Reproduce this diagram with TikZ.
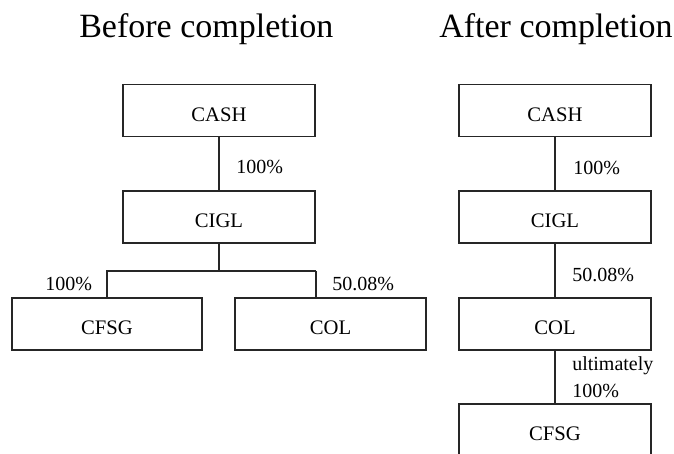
\documentclass[tikz,border=0pt]{standalone}
\usepackage{fontspec}
\setmainfont{Liberation Serif}
\begin{document}
\begin{tikzpicture}[x=0.75pt,y=-0.75pt,
  entity/.style={draw=black!85, line width=1.1pt, rectangle, inner sep=0pt, outer sep=0pt,
    minimum width=144pt, minimum height=39pt, text height=16pt, text depth=0pt,
    font=\fontsize{15.5}{18}\selectfont},
  conn/.style={draw=black!85, line width=1.1pt},
  pct/.style={font=\fontsize{15}{18}\selectfont, inner sep=0pt, anchor=base west},
  ttl/.style={font=\fontsize{25.5}{30}\selectfont, inner sep=0pt, anchor=base west}]
\useasboundingbox (0,0) rectangle (674,453);
\clip (0,0) rectangle (674,453);
% titles
\node[ttl] (t1) at (79,38) {Before completion};
\node[ttl] (t2) at (439,38) {After completion};
% before
\node[entity] (CASH1) at (219,110.5) {CASH};
\node[entity] (CIGL1) at (219,217) {CIGL};
\node[entity, minimum width=142.5pt] (CFSG1) at (107,324) {CFSG};
\node[entity, minimum width=143.25pt] (COL1) at (330.5,324) {COL};
\coordinate (bj) at (219,271);
\coordinate (cj) at (316,271);
\draw[conn] (CASH1) -- (CIGL1);
\draw[conn] (CIGL1.south) -- (bj);
\draw[conn] (cj) -| (CFSG1.north);
\draw[conn] (cj) -- (cj |- COL1.north);
\node[pct] (p1) at (236,173) {100\%};
\node[pct] (p2) at (45,290) {100\%};
\node[pct] (p3) at (332,290) {50.08\%};
% after
\node[entity] (CASH2) at (555,110.5) {CASH};
\node[entity] (CIGL2) at (555,217) {CIGL};
\node[entity] (COL2) at (555,324) {COL};
\node[entity] (CFSG2) at (555,430) {CFSG};
\draw[conn] (CASH2) -- (CIGL2);
\draw[conn] (CIGL2) -- (COL2);
\draw[conn] (COL2) -- (CFSG2);
\node[pct] (p4) at (573,174) {100\%};
\node[pct] (p5) at (572,281) {50.08\%};
\node[pct] (p6) at (572,370) {ultimately};
\node[pct] (p7) at (572,397) {100\%};
\end{tikzpicture}
\end{document}
